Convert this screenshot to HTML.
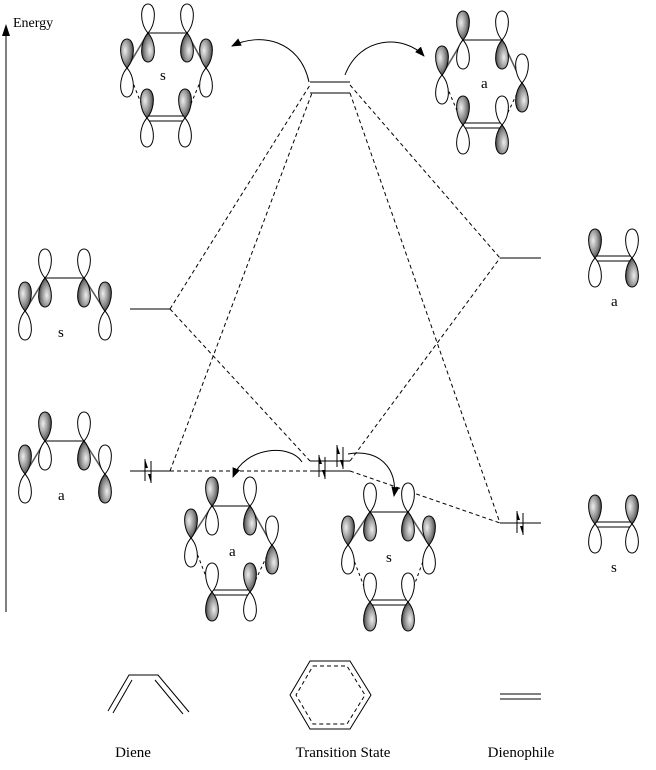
<!DOCTYPE html>
<html><head><meta charset="utf-8"><style>
html,body{margin:0;padding:0;background:#fff}
svg{display:block}
text{font-family:"Liberation Serif",serif;font-size:15px;fill:#000}
</style></head><body>
<svg width="656" height="770" viewBox="0 0 656 770" xmlns="http://www.w3.org/2000/svg">
<defs>
<radialGradient id="g" cx="0.35" cy="0.4" r="0.7">
<stop offset="0" stop-color="#eee"/><stop offset="0.6" stop-color="#888"/><stop offset="1" stop-color="#333"/>
</radialGradient>
<path id="lw" d="M0,0 C-9,-10 -8,-29 0,-29 C8,-29 9,-10 0,0 Z" fill="#fff" stroke="#000" stroke-width="1"/>
<path id="lf" d="M0,0 C-9,-10 -8,-29 0,-29 C8,-29 9,-10 0,0 Z" fill="url(#g)" stroke="#000" stroke-width="1"/>
<g id="pu"><use href="#lf"/><use href="#lw" transform="rotate(180)"/></g>
<g id="pd"><use href="#lw"/><use href="#lf" transform="rotate(180)"/></g>
<marker id="ar" markerWidth="10" markerHeight="8" refX="9" refY="4" orient="auto" markerUnits="userSpaceOnUse"><path d="M0,0 L10,4 L0,8 Z" fill="#000"/></marker>
<g id="e2"><line x1="-3" y1="-12" x2="-3" y2="10" stroke="#000"/><path d="M-3,-12 L0,-3 L-3,-3Z" fill="#000"/><line x1="3" y1="-10" x2="3" y2="12" stroke="#000"/><path d="M3,12 L0,3 L3,3Z" fill="#000"/></g>
</defs>

<line x1="6" y1="612" x2="6" y2="32" stroke="#555" stroke-width="1.5"/>
<path d="M6,24 L2,36 L10,36Z" fill="#000"/>
<text x="13" y="27" style="font-size:14px">Energy</text>

<g stroke="#555" stroke-width="1.5">
<line x1="130" y1="309" x2="170" y2="309"/>
<line x1="130" y1="471" x2="170" y2="471"/>
<line x1="500" y1="258" x2="541" y2="258"/>
<line x1="500" y1="523" x2="541" y2="523"/>
<line x1="310" y1="82" x2="350" y2="82"/>
<line x1="310" y1="93" x2="350" y2="93"/>
<line x1="310" y1="461" x2="350" y2="461"/>
<line x1="310" y1="471" x2="350" y2="471"/>
</g>
<g stroke="#000" stroke-width="1" stroke-dasharray="4,3" fill="none">
<line x1="170" y1="309" x2="310" y2="85"/>
<line x1="170" y1="471" x2="312" y2="93"/>
<line x1="170" y1="309" x2="310" y2="461"/>
<line x1="170" y1="471" x2="310" y2="471"/>
<line x1="350" y1="85" x2="500" y2="258"/>
<line x1="350" y1="93" x2="500" y2="523"/>
<line x1="350" y1="461" x2="500" y2="258"/>
<line x1="350" y1="471" x2="500" y2="523"/>
</g>
<use href="#e2" transform="translate(148,471)"/>
<use href="#e2" transform="translate(322,467)"/>
<use href="#e2" transform="translate(340,457)"/>
<use href="#e2" transform="translate(520,523)"/>

<g fill="none" stroke="#000" stroke-width="1">
<path d="M309,82 C300,40 260,32 232,46" marker-end="url(#ar)"/>
<path d="M345,75 C360,35 405,35 424,56" marker-end="url(#ar)"/>
<path d="M302,462 C290,443 245,447 233,477" marker-end="url(#ar)"/>
<path d="M348,454 C380,448 398,470 394,496" marker-end="url(#ar)"/>
</g>

<g stroke="#555" stroke-width="1.5" fill="none">
<line x1="148" y1="33" x2="187" y2="33"/><line x1="148" y1="33" x2="127" y2="68"/><line x1="187" y1="33" x2="206" y2="68"/>
<line x1="463" y1="40" x2="502" y2="40"/><line x1="463" y1="40" x2="442" y2="75"/><line x1="502" y1="40" x2="522" y2="83"/>
<line x1="212" y1="506" x2="250" y2="506"/><line x1="212" y1="506" x2="191" y2="538"/><line x1="250" y1="506" x2="272" y2="545"/>
<line x1="370" y1="512" x2="408" y2="512"/><line x1="370" y1="512" x2="348" y2="545"/><line x1="408" y1="512" x2="429" y2="545"/>
<line x1="45" y1="278" x2="84" y2="278"/><line x1="45" y1="278" x2="25" y2="311"/><line x1="84" y1="278" x2="105" y2="311"/>
<line x1="45" y1="441" x2="84" y2="441"/><line x1="45" y1="441" x2="25" y2="474"/><line x1="84" y1="441" x2="105" y2="474"/>
</g>
<g stroke="#000" stroke-width="1" fill="none">
<line x1="147" y1="116" x2="185" y2="116"/><line x1="147" y1="121" x2="185" y2="121"/>
<line x1="463" y1="123" x2="502" y2="123"/><line x1="463" y1="128" x2="502" y2="128"/>
<line x1="212" y1="590" x2="250" y2="590"/><line x1="212" y1="595" x2="250" y2="595"/>
<line x1="370" y1="600" x2="408" y2="600"/><line x1="370" y1="605" x2="408" y2="605"/>
<line x1="595" y1="256" x2="632" y2="256"/><line x1="595" y1="261" x2="632" y2="261"/>
<line x1="595" y1="522" x2="632" y2="522"/><line x1="595" y1="527" x2="632" y2="527"/>
</g>
<g stroke="#000" stroke-width="1" stroke-dasharray="3,3">
<line x1="127" y1="68" x2="147" y2="118"/><line x1="206" y1="68" x2="185" y2="118"/>
<line x1="442" y1="75" x2="463" y2="125"/><line x1="522" y1="83" x2="502" y2="125"/>
<line x1="191" y1="538" x2="212" y2="592"/><line x1="272" y1="545" x2="250" y2="592"/>
<line x1="348" y1="545" x2="370" y2="602"/><line x1="429" y1="545" x2="408" y2="602"/>
</g>

<use href="#pd" transform="translate(148,33)"/><use href="#pd" transform="translate(187,33)"/>
<use href="#pu" transform="translate(127,68)"/><use href="#pu" transform="translate(206,68)"/>
<use href="#pu" transform="translate(147,118)"/><use href="#pu" transform="translate(185,118)"/>
<text x="160" y="80">s</text>
<use href="#pu" transform="translate(463,40)"/><use href="#pd" transform="translate(502,40)"/>
<use href="#pu" transform="translate(442,75)"/><use href="#pd" transform="translate(522,83)"/>
<use href="#pu" transform="translate(463,125)"/><use href="#pd" transform="translate(502,125)"/>
<text x="481" y="88">a</text>
<use href="#pu" transform="translate(212,506)"/><use href="#pd" transform="translate(250,506)"/>
<use href="#pu" transform="translate(191,538)"/><use href="#pd" transform="translate(272,545)"/>
<use href="#pd" transform="translate(212,592)"/><use href="#pu" transform="translate(250,592)"/>
<text x="229" y="556">a</text>
<use href="#pd" transform="translate(370,512)"/><use href="#pd" transform="translate(408,512)"/>
<use href="#pu" transform="translate(348,545)"/><use href="#pu" transform="translate(429,545)"/>
<use href="#pd" transform="translate(370,602)"/><use href="#pd" transform="translate(408,602)"/>
<text x="386" y="562">s</text>
<use href="#pd" transform="translate(45,278)"/><use href="#pd" transform="translate(84,278)"/>
<use href="#pu" transform="translate(25,311)"/><use href="#pu" transform="translate(105,311)"/>
<text x="58" y="337">s</text>
<use href="#pu" transform="translate(45,441)"/><use href="#pd" transform="translate(84,441)"/>
<use href="#pu" transform="translate(25,474)"/><use href="#pd" transform="translate(105,474)"/>
<text x="58" y="500">a</text>
<use href="#pu" transform="translate(595,258)"/><use href="#pd" transform="translate(632,258)"/>
<text x="611" y="306">a</text>
<use href="#pu" transform="translate(595,524)"/><use href="#pu" transform="translate(632,524)"/>
<text x="611" y="572">s</text>

<g stroke="#000" stroke-width="1" fill="none">
<path d="M108,711 L129,675 L158,675 L189,712"/>
<line x1="113" y1="713" x2="132" y2="680"/>
<line x1="155" y1="680" x2="183" y2="714"/>
<path d="M310,661 L350,661 L371,695 L350,729 L310,729 L290,695 Z"/>
<path d="M313,666 L347,666 L365,695 L347,724 L313,724 L296,695 Z" stroke-dasharray="4,3"/>
<line x1="500" y1="694" x2="541" y2="694"/>
<line x1="500" y1="699" x2="541" y2="699"/>
</g>
<text x="133" y="757" text-anchor="middle">Diene</text>
<text x="343" y="757" text-anchor="middle">Transition State</text>
<text x="521" y="757" text-anchor="middle">Dienophile</text>
</svg>
</body></html>
